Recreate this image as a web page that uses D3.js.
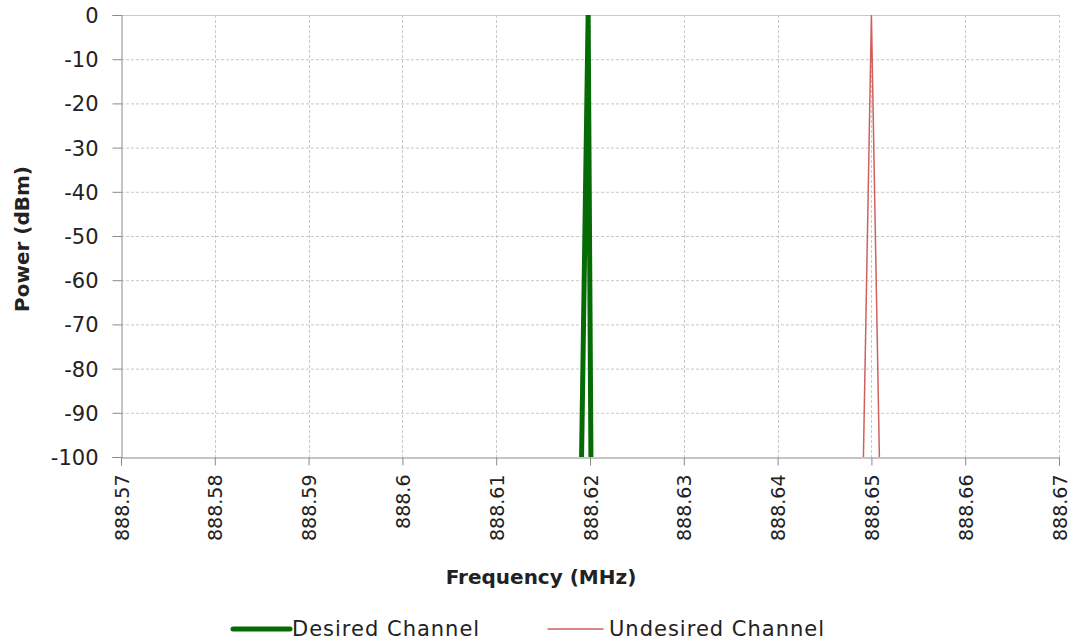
<!DOCTYPE html>
<html>
<head>
<meta charset="utf-8">
<script src="https://cdn.jsdelivr.net/npm/d3@7"></script>
<style>
  body { margin: 0; background: #fff; }
  text { font-family: "DejaVu Sans", sans-serif; fill: #222; }
</style>
</head>
<body>
<script>
// chart values
var xTicks = [888.57, 888.58, 888.59, 888.6, 888.61, 888.62, 888.63, 888.64, 888.65, 888.66, 888.67];
var xTickLabels = ["888.57", "888.58", "888.59", "888.6", "888.61", "888.62", "888.63", "888.64", "888.65", "888.66", "888.67"];
var yTicks = [0, -10, -20, -30, -40, -50, -60, -70, -80, -90, -100];

var desiredFreq = [888.6191, 888.6198, 888.6201];
var desiredPower = [-100, 0, -100];
var undesiredFreq = [888.64915, 888.65, 888.65085];
var undesiredPower = [-100, 0, -100];

var seriesNames = ["Desired Channel", "Undesired Channel"];

var width = 1075, height = 643;
var margin = {left: 121, right: 1059, top: 15, bottom: 457};

var svg = d3.select("body").append("svg")
    .attr("width", width)
    .attr("height", height);

var x = d3.scaleLinear().domain([888.57, 888.67]).range([margin.left, margin.right]);
var y = d3.scaleLinear().domain([-100, 0]).range([margin.bottom, margin.top]);

// grid
svg.append("g").selectAll("line")
    .data(yTicks.filter(d => d !== -100))
    .enter().append("line")
    .attr("x1", margin.left).attr("x2", margin.right)
    .attr("y1", d => y(d) + 0.5).attr("y2", d => y(d) + 0.5)
    .style("stroke", "#c8c8c8")
    .style("stroke-dasharray", d => d === 0 ? null : "3,2");

svg.append("g").selectAll("line")
    .data(xTicks.slice(1))
    .enter().append("line")
    .attr("x1", d => Math.round(x(d)) + 0.5).attr("x2", d => Math.round(x(d)) + 0.5)
    .attr("y1", margin.top).attr("y2", margin.bottom)
    .style("stroke", "#c8c8c8")
    .style("stroke-dasharray", "3,2");

// axes
var yAxis = svg.append("g")
    .attr("transform", "translate(" + (margin.left + 0.5) + ",0)")
    .call(d3.axisLeft(y).tickValues(yTicks).tickSize(9).tickPadding(14).tickFormat(d => String(d)));
var xAxis = svg.append("g")
    .attr("transform", "translate(0," + (margin.bottom + 0.5) + ")")
    .call(d3.axisBottom(x).tickValues(xTicks).tickSize(8).tickFormat((d, i) => xTickLabels[i]));

[yAxis, xAxis].forEach(function (a) {
    a.select(".domain").style("stroke", "#8a8a8a");
    a.selectAll(".tick line").style("stroke", "#8a8a8a");
});
yAxis.selectAll("text")
    .style("font-size", "21px")
    .style("fill", "#222")
    .attr("dy", "0.36em");
xAxis.selectAll("text")
    .style("font-size", "19px")
    .style("fill", "#222")
    .attr("text-anchor", "end")
    .attr("dy", null)
    .attr("y", 0)
    .attr("transform", "translate(0,17) rotate(-90)")
    .attr("dominant-baseline", "central");

// axis titles
svg.append("text")
    .attr("transform", "translate(22,239) rotate(-90)")
    .attr("text-anchor", "middle")
    .attr("dominant-baseline", "central")
    .style("font-weight", "bold")
    .style("font-size", "20px")
    .text("Power (dBm)");
svg.append("text")
    .attr("x", 541).attr("y", 584)
    .attr("text-anchor", "middle")
    .style("font-weight", "bold")
    .style("font-size", "20px")
    .text("Frequency (MHz)");

// series
var line = d3.line().x(d => x(d[0])).y(d => y(d[1]));
svg.append("path")
    .datum(desiredFreq.map((f, i) => [f, desiredPower[i]]))
    .attr("d", line)
    .style("fill", "none")
    .style("stroke", "#056b05")
    .style("stroke-width", 5);
svg.append("path")
    .datum(undesiredFreq.map((f, i) => [f, undesiredPower[i]]))
    .attr("d", line)
    .style("fill", "none")
    .style("stroke", "#d0605e")
    .style("stroke-width", 1.5);

// legend
var legend = [
    {name: seriesNames[0], x0: 233, x1: 290, tx: 292, color: "#056b05", w: 5},
    {name: seriesNames[1], x0: 548, x1: 603, tx: 609, color: "#d0605e", w: 1.5}
];
var lg = svg.append("g").selectAll("g").data(legend).enter().append("g");
lg.append("line")
    .attr("x1", d => d.x0).attr("x2", d => d.x1)
    .attr("y1", 629).attr("y2", 629)
    .style("stroke", d => d.color)
    .style("stroke-width", d => d.w)
    .style("stroke-linecap", "round");
lg.append("text")
    .attr("x", d => d.tx).attr("y", 629)
    .attr("dominant-baseline", "central")
    .style("font-size", "21px")
    .style("letter-spacing", "1px")
    .text(d => d.name);
</script>
</body>
</html>
